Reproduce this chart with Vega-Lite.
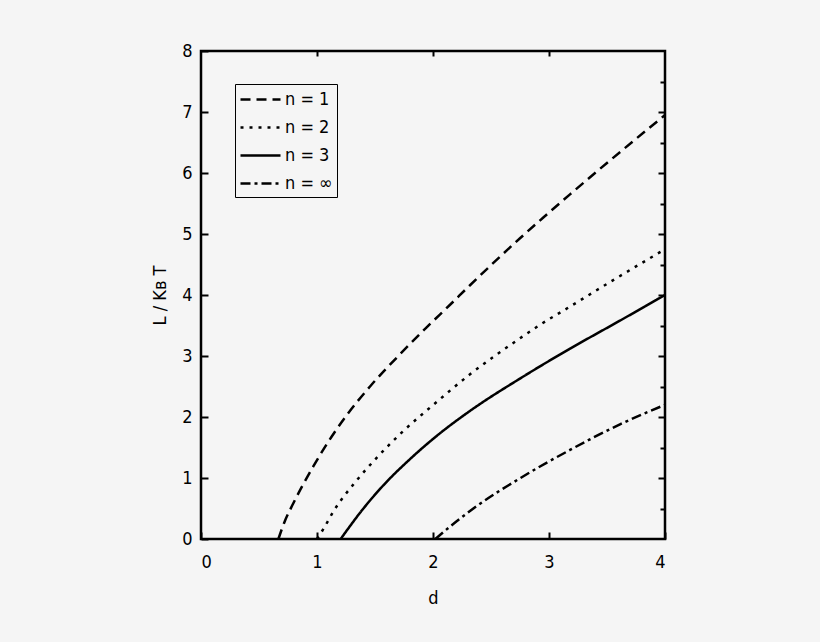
{
  "$schema": "https://vega.github.io/schema/vega-lite/v6.json",
  "width": 464,
  "height": 488,
  "autosize": "none",
  "padding": {"left": 201, "top": 51, "right": 155, "bottom": 103},
  "background": "#f5f5f5",
  "config": {
    "font": "DejaVu Sans Condensed, Liberation Sans, sans-serif",
    "view": {"stroke": "black", "strokeWidth": 2.5, "fill": null},
    "axis": {
      "domain": false,
      "grid": false,
      "labelFont": "DejaVu Sans Condensed, Liberation Sans, sans-serif",
      "labelFontSize": 18,
      "labelColor": "black",
      "titleFont": "DejaVu Sans Condensed, Liberation Sans, sans-serif",
      "titleFontSize": 18,
      "titleFontWeight": "normal",
      "titleColor": "black",
      "tickColor": "black",
      "tickWidth": 2
    },
    "legend": {
      "labelFont": "DejaVu Sans Condensed, Liberation Sans, sans-serif",
      "labelFontSize": 18,
      "labelColor": "black"
    }
  },
  "data": {
    "values": [
      {"d": 0.667, "L": 0, "n": "n = 1"},
      {"d": 0.72, "L": 0.28, "n": "n = 1"},
      {"d": 0.796, "L": 0.585, "n": "n = 1"},
      {"d": 0.968, "L": 1.19, "n": "n = 1"},
      {"d": 1.127, "L": 1.68, "n": "n = 1"},
      {"d": 1.256, "L": 2.03, "n": "n = 1"},
      {"d": 1.457, "L": 2.5, "n": "n = 1"},
      {"d": 1.716, "L": 3.03, "n": "n = 1"},
      {"d": 1.945, "L": 3.47, "n": "n = 1"},
      {"d": 2.147, "L": 3.84, "n": "n = 1"},
      {"d": 2.319, "L": 4.16, "n": "n = 1"},
      {"d": 2.75, "L": 4.93, "n": "n = 1"},
      {"d": 2.951, "L": 5.27, "n": "n = 1"},
      {"d": 3.181, "L": 5.65, "n": "n = 1"},
      {"d": 3.497, "L": 6.16, "n": "n = 1"},
      {"d": 4.0, "L": 6.95, "n": "n = 1"},
      {"d": 1.0, "L": 0, "n": "n = 2"},
      {"d": 1.06, "L": 0.18, "n": "n = 2"},
      {"d": 1.141, "L": 0.45, "n": "n = 2"},
      {"d": 1.342, "L": 0.96, "n": "n = 2"},
      {"d": 1.514, "L": 1.33, "n": "n = 2"},
      {"d": 1.744, "L": 1.77, "n": "n = 2"},
      {"d": 2.003, "L": 2.2, "n": "n = 2"},
      {"d": 2.319, "L": 2.7, "n": "n = 2"},
      {"d": 2.75, "L": 3.29, "n": "n = 2"},
      {"d": 2.922, "L": 3.51, "n": "n = 2"},
      {"d": 3.181, "L": 3.81, "n": "n = 2"},
      {"d": 3.55, "L": 4.24, "n": "n = 2"},
      {"d": 4.0, "L": 4.75, "n": "n = 2"},
      {"d": 1.204, "L": 0, "n": "n = 3"},
      {"d": 1.28, "L": 0.2, "n": "n = 3"},
      {"d": 1.371, "L": 0.43, "n": "n = 3"},
      {"d": 1.572, "L": 0.88, "n": "n = 3"},
      {"d": 1.802, "L": 1.31, "n": "n = 3"},
      {"d": 2.032, "L": 1.69, "n": "n = 3"},
      {"d": 2.319, "L": 2.1, "n": "n = 3"},
      {"d": 2.75, "L": 2.63, "n": "n = 3"},
      {"d": 2.922, "L": 2.83, "n": "n = 3"},
      {"d": 3.181, "L": 3.12, "n": "n = 3"},
      {"d": 3.612, "L": 3.58, "n": "n = 3"},
      {"d": 4.0, "L": 4.0, "n": "n = 3"},
      {"d": 2.02, "L": 0, "n": "n = ∞"},
      {"d": 2.1, "L": 0.13, "n": "n = ∞"},
      {"d": 2.348, "L": 0.5, "n": "n = ∞"},
      {"d": 2.75, "L": 0.995, "n": "n = ∞"},
      {"d": 3.181, "L": 1.46, "n": "n = ∞"},
      {"d": 3.612, "L": 1.88, "n": "n = ∞"},
      {"d": 4.0, "L": 2.2, "n": "n = ∞"}
    ]
  },
  "encoding": {
    "x": {"field": "d", "type": "quantitative", "scale": {"domain": [0, 4], "nice": false}},
    "y": {"field": "L", "type": "quantitative", "scale": {"domain": [0, 8], "nice": false}}
  },
  "layer": [
    {
      "mark": {"type": "line", "color": "black", "strokeWidth": 2.5, "interpolate": "monotone"},
      "encoding": {
        "x": {
          "field": "d", "type": "quantitative",
          "axis": {"orient": "bottom", "values": [0, 1, 2, 3, 4], "tickSize": -7, "labelPadding": 21, "title": "d", "titlePadding": 18}
        },
        "y": {
          "field": "L", "type": "quantitative",
          "axis": {
            "orient": "left",
            "values": [0, 0.5, 1, 1.5, 2, 2.5, 3, 3.5, 4, 4.5, 5, 5.5, 6, 6.5, 7, 7.5, 8],
            "format": "d",
            "labelExpr": "datum.value % 1 === 0 ? datum.label : ''",
            "labelOverlap": false,
            "labelFlush": false,
            "tickSize": {"condition": {"test": "datum.value % 1 === 0", "value": -7}, "value": -4},
            "labelPadding": 16,
            "title": "L / Kʙ T",
            "titlePadding": 12
          }
        },
        "strokeDash": {
          "field": "n", "type": "nominal",
          "scale": {
            "domain": ["n = 1", "n = 2", "n = 3", "n = ∞"],
            "range": [[10, 6], [3, 6], [1, 0], [10, 4, 3, 4]]
          },
          "legend": {
            "title": null,
            "orient": "none",
            "legendX": 34,
            "legendY": 33,
            "symbolType": "M-2,0H2",
            "symbolSize": 400,
            "symbolOffset": 10,
            "symbolStrokeWidth": 2.5,
            "symbolStrokeColor": "black",
            "symbolFillColor": "transparent",
            "strokeColor": "black",
            "padding": 4,
            "rowPadding": 7,
            "labelOffset": 13
          }
        }
      }
    },
    {
      "mark": {"type": "point", "opacity": 0},
      "encoding": {
        "x": {
          "field": "d", "type": "quantitative",
          "axis": {"orient": "top", "values": [1, 2, 3], "tickSize": -5, "labels": false, "title": null}
        },
        "y": {
          "field": "L", "type": "quantitative",
          "axis": {
            "orient": "right",
            "values": [0.5, 1, 1.5, 2, 2.5, 3, 3.5, 4, 4.5, 5, 5.5, 6, 6.5, 7, 7.5],
            "tickSize": {"condition": {"test": "datum.value % 1 === 0", "value": -7}, "value": -5},
            "labels": false,
            "title": null
          }
        }
      }
    }
  ],
  "resolve": {"axis": {"x": "independent", "y": "independent"}}
}
